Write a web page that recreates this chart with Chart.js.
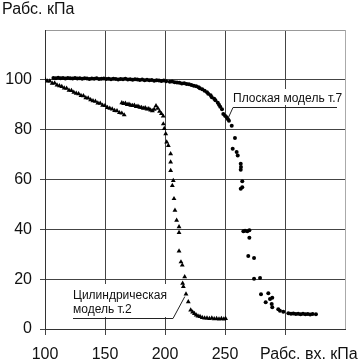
<!DOCTYPE html>
<html>
<head>
<meta charset="utf-8">
<script src="https://cdn.jsdelivr.net/npm/chart.js@4.4.1/dist/chart.umd.min.js"></script>
<style>
  html, body { margin: 0; padding: 0; background: #fff; }
</style>
</head>
<body>
<canvas id="pressureChart" width="361" height="360"></canvas>
<script>
// Плоская модель т.7 (кружки)
var flatX = [107, 109, 111, 113, 115, 117, 119, 121, 123, 125, 127, 129, 131, 133, 135, 137,
    139, 141, 143, 145, 147, 149, 151, 153, 155, 157, 159, 161, 163, 165, 167, 169,
    171, 173, 175, 177, 179, 181, 183, 185, 187, 189, 191, 193, 195, 197, 199, 201,
    204, 206, 208, 210, 212, 214, 216, 218, 220, 222, 224, 226, 228, 229, 231, 233,
    235, 236, 238, 239, 241, 242, 244, 245, 246, 247.5, 248.6, 250, 251.4, 252.5, 253.3,
    255.6, 258.3, 256.4, 259.7, 260.6, 263.1, 263.3, 263.1, 264.4, 263.1, 264.4,
    265.3, 266.7, 268.6, 270.3, 270.3, 269.4, 274.2, 274.2, 279.2, 280, 286.1, 283.9,
    287.5, 289.4, 288.9, 289.4, 294.4, 295.8, 298.6,
    302.8, 305, 307, 309, 311, 313, 315, 317, 319, 321, 323, 325.8];
var flatY = [100.7, 100.6, 100.8, 100.6, 100.7, 100.5, 100.7, 100.6, 100.5, 100.7, 100.5, 100.6, 100.4, 100.6, 100.5, 100.3,
    100.5, 100.4, 100.6, 100.3, 100.4, 100.5, 100.3, 100.4, 100.2, 100.4, 100.3, 100.1, 100.3, 100.2, 100.4, 100.1,
    100.2, 100.0, 100.2, 100.1, 99.9, 100.1, 99.8, 100.0, 99.8, 99.9, 99.6, 99.8, 99.7, 99.5, 99.7, 99.4,
    99.2, 99.3, 99.0, 98.9, 98.8, 98.5, 98.6, 98.3, 98.2, 97.9, 97.6, 97.4, 97.0, 96.6, 96.2, 95.6,
    95.0, 94.4, 93.8, 93.0, 92.4, 91.8, 90.8, 90.0, 89.2, 88.2, 86.3, 85.6, 85.0, 84.2, 83.6,
    81.6, 76.7, 72.3, 71.0, 69.6, 66.3, 65.0, 63.9, 59.3, 56.3, 56.9,
    39.2, 39.4, 39.2, 39.6, 36.6, 29.3, 28.5, 20.2, 20.5, 13.9, 14.3, 10.7,
    12.0, 12.5, 10.0, 8.7, 7.9, 7.3, 6.9,
    6.3, 6.1, 6.2, 6.0, 6.1, 5.9, 6.1, 5.9, 6.0, 5.8, 6.0, 5.9];

// Цилиндрическая модель т.2 (треугольники)
var cylX = [100, 102, 104, 106, 108, 110, 112, 114, 116, 118, 120, 122, 124, 126, 128, 130, 132,
    134, 136, 138, 140, 142, 144, 146, 148, 150, 152, 154, 156, 158, 160, 162, 164, 166,
    164, 165.5, 167, 168.5, 170, 171.5, 173, 174.5, 176, 177.5, 179, 180.5, 182, 183.5,
    185, 186.5, 188, 189.5, 191, 192.5, 194, 195.5, 197, 198.5,
    198.6, 199.4, 200.6, 201.4, 202.8, 204.7, 204.7, 204.7, 206.9, 206.1, 207.5, 208.3,
    209.7, 211.7, 211.7, 211.7, 213.3, 214.4, 216.4, 214.7, 215.3, 217.5, 219.4, 221.4,
    223, 224.5, 226, 227.5, 229.2, 231, 233, 235, 237, 239, 241, 243, 245, 247, 249, 250.5];
var cylY = [100.2, 99.5, 99.5, 98.6, 98.7, 97.9, 97.6, 97.3, 96.7, 96.6, 95.8, 95.7, 95.0, 94.6, 94.4, 93.7, 93.6,
    92.8, 92.7, 92.0, 91.6, 91.4, 90.7, 90.6, 89.8, 89.7, 88.9, 88.6, 88.3, 87.7, 87.6, 86.8, 86.6, 85.9,
    90.8, 90.5, 90.6, 90.1, 90.2, 89.8, 89.7, 89.8, 89.3, 89.4, 89.0, 88.9, 88.6, 88.8,
    88.3, 88.4, 87.9, 87.6, 88.2, 89.6, 88.6, 87.4, 86.4, 85.4,
    82.3, 80.4, 78.3, 75.0, 73.6, 70.3, 67.0, 63.6, 59.6, 57.6, 52.3, 47.6,
    43.6, 41.0, 38.7, 31.3, 26.9, 25.6, 20.9, 18.3, 17.0, 14.0, 10.9, 7.6,
    6.8, 6.2, 5.6, 5.2, 5.0, 4.6, 4.4, 4.4, 4.2, 4.4, 4.1, 4.2, 4.0, 4.2, 4.0, 4.2];

var xTickLabels = [100, 150, 200, 250];
var yTickLabels = [0, 20, 40, 60, 80, 100];

var FONT = '"Liberation Sans", Arial, sans-serif';

function toPoints(xs, ys) {
    return xs.map(function (x, i) { return { x: x, y: ys[i] }; });
}

var annotationPlugin = {
    id: 'annotationPlugin',
    afterDraw: function (chart) {
        var ctx = chart.ctx;
        var xs = chart.scales.x;
        var ys = chart.scales.y;
        ctx.save();

        // подложки под подписи
        ctx.fillStyle = '#fff';
        ctx.fillRect(231, 89, 108, 16);
        ctx.fillRect(71, 284, 104, 33);

        ctx.fillStyle = '#111';
        ctx.textBaseline = 'alphabetic';
        ctx.font = '16px ' + FONT;
        ctx.fillText('Рабс. кПа', 2, 14);
        ctx.fillText('Рабс. вх. кПа', 260, 359);

        ctx.font = '12px ' + FONT;
        ctx.fillText('Плоская модель т.7', 233, 102);
        ctx.fillText('Цилиндрическая', 73, 299);
        ctx.fillText('модель т.2', 73, 313);

        ctx.strokeStyle = '#222';
        ctx.lineWidth = 1;
        ctx.beginPath();
        ctx.moveTo(337, 107.5);
        ctx.lineTo(233, 107.5);
        ctx.lineTo(xs.getPixelForValue(253), ys.getPixelForValue(85));
        ctx.moveTo(73, 318.5);
        ctx.lineTo(173, 318.5);
        ctx.lineTo(xs.getPixelForValue(216.5), ys.getPixelForValue(13));
        ctx.stroke();
        ctx.restore();
    }
};

var ctx = document.getElementById('pressureChart').getContext('2d');
var pressureChart = new Chart(ctx, {
    type: 'scatter',
    data: {
        datasets: [{
            label: 'Плоская модель т.7',
            data: toPoints(flatX, flatY),
            pointStyle: 'circle',
            pointRadius: 2,
            pointBorderWidth: 0,
            backgroundColor: '#000',
            borderColor: '#000'
        }, {
            label: 'Цилиндрическая модель т.2',
            data: toPoints(cylX, cylY),
            pointStyle: 'triangle',
            pointRadius: 2.8,
            pointBorderWidth: 0,
            backgroundColor: '#000',
            borderColor: '#000'
        }]
    },
    options: {
        responsive: false,
        animation: false,
        devicePixelRatio: 1,
        layout: { padding: { top: 30, right: 16, left: 0, bottom: 0 } },
        plugins: {
            legend: { display: false },
            tooltip: { enabled: false }
        },
        scales: {
            x: {
                type: 'linear',
                min: 100,
                max: 350,
                afterFit: function (scale) { scale.height = 31; },
                ticks: {
                    stepSize: 50,
                    padding: 10,
                    color: '#111',
                    font: { family: FONT, size: 16 },
                    maxRotation: 0,
                    callback: function (v) { return xTickLabels.indexOf(v) >= 0 ? String(v) : ''; }
                },
                grid: {
                    color: function (c) { return c.tick && c.tick.value === 350 ? '#aaa' : '#444'; },
                    tickColor: function (c) { return c.tick && c.tick.value === 350 ? 'rgba(0,0,0,0)' : '#444'; },
                    tickLength: 6,
                    lineWidth: 1
                },
                border: { color: '#333', width: 1 }
            },
            y: {
                type: 'linear',
                min: 0,
                max: 120,
                afterFit: function (scale) { scale.width = 45; },
                ticks: {
                    stepSize: 20,
                    padding: 8,
                    color: '#111',
                    font: { family: FONT, size: 16 },
                    callback: function (v) { return yTickLabels.indexOf(v) >= 0 ? String(v) : ''; }
                },
                grid: {
                    color: function (c) { return c.tick && c.tick.value === 120 ? '#999' : '#444'; },
                    tickColor: function (c) { return c.tick && c.tick.value === 120 ? 'rgba(0,0,0,0)' : '#444'; },
                    tickLength: 5,
                    lineWidth: 1
                },
                border: { color: '#333', width: 1 }
            }
        }
    },
    plugins: [annotationPlugin]
});
</script>
</body>
</html>
